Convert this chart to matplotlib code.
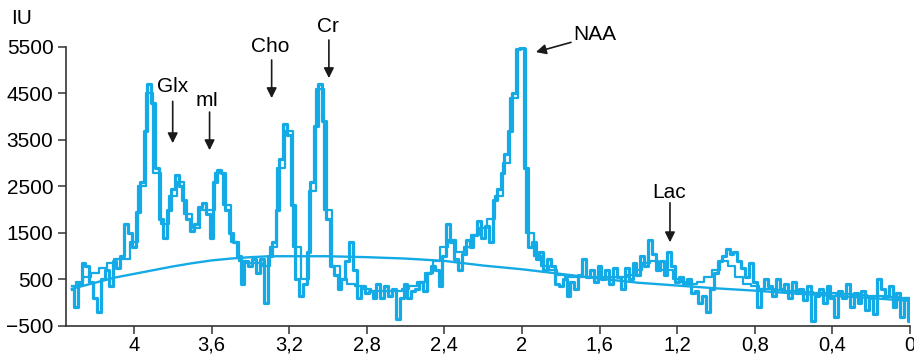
import numpy as np
import matplotlib
matplotlib.use("Agg")
import matplotlib.pyplot as plt

plt.rcParams['font.family'] = ['Liberation Sans', 'DejaVu Sans']

# ---- data (ppm, IU) ----
raw_ppm = np.round(np.arange(4.32, -0.001, -0.02), 2)
raw_iu = [300, -100, 400, 850, 800, 450, 100, -200, 500, 700,
          350, 900, 750, 1000, 1700, 1500, 1200, 1950, 2600, 3700,
          4700, 4300, 2900, 1800, 1400, 2000, 2450, 2750, 2500, 2200,
          1800, 1550, 1700, 2050, 2150, 1900, 1400, 2600, 2850, 2800,
          2000, 1500, 1300, 1000, 400, 900, 800, 950, 650, 950,
          0, 1000, 1300, 2000, 3100, 3850, 3600, 2100, 500, 150,
          400, 1100, 2600, 3800, 4700, 3900, 1800, 800, 600, 300,
          500, 900, 1300, 700, 100, 350, 200, 250, 100, 400,
          100, 350, 150, 300, -350, 100, 400, 100, 250, 300,
          450, 250, 650, 800, 700, 350, 1000, 1700, 1300, 950,
          700, 1050, 1350, 1200, 1450, 1750, 1400, 1650, 1300, 2200,
          2450, 2800, 3200, 3700, 4500, 5450, 5500, 2900, 1200, 1300,
          950, 1100, 700, 950, 800, 400, 350, 500, 150, 450,
          300, 600, 950, 550, 700, 450, 800, 500, 700, 400,
          750, 550, 300, 750, 500, 850, 600, 1000, 800, 1350,
          1050, 700, 900, 600, 1100, 800, 450, 550, 400, 500,
          200, 250, 0, 150, -200, 300, 650, 900, 1000, 1150,
          1050, 1100, 900, 750, 550, 850, 450, -100, 300, 500,
          350, 150, 500, 300, 400, 100, 450, 200, 300, 50,
          350, -400, 150, 300, 0, 350, 100, -300, 250, 100,
          400, -100, 200, 0, 250, -150, 100, -250, 500, 300,
          150, 350, -100, 200, -300, 100, -400]

fit_ppm = np.round(np.arange(4.32, -0.001, -0.04), 2)
fit_iu = [350, 450, 550, 650, 750, 850, 950, 950, 1300, 2500,
          4500, 2800, 1700, 2300, 2600, 1900, 1600, 2000, 2000, 2800,
          2100, 1300, 900, 850, 850, 800, 1200, 2900, 3700, 1200,
          500, 2400, 4600, 2000, 800, 500, 400, 350, 300, 250,
          250, 250, 250, 300, 350, 450, 650, 900, 1200, 1350,
          1100, 1200, 1450, 1600, 1800, 2300, 3000, 4400, 5450, 1500,
          1000, 800, 700, 600, 550, 550, 550, 550, 550, 550,
          550, 550, 600, 700, 850, 900, 700, 700, 500, 450,
          400, 450, 550, 700, 900, 800, 550, 400, 350, 300,
          300, 280, 260, 250, 240, 230, 220, 210, 200, 190,
          180, 170, 160, 150, 140, 130, 120, 110, 100]

base_ppm = [4.32, 4.2, 4.1, 4.0, 3.9, 3.8, 3.7, 3.6, 3.5, 3.4, 3.3, 3.2, 3.0,
            2.8, 2.6, 2.4, 2.2, 2.0, 1.8, 1.6, 1.4, 1.2, 1.0, 0.8, 0.6, 0.4,
            0.2, 0.0]
base_iu = [300, 430, 540, 620, 700, 780, 850, 910, 950, 980, 1000, 1000, 1000,
           980, 950, 900, 800, 720, 620, 520, 430, 370, 310, 260, 200, 150,
           100, 40]

xticks = [4.0, 3.6, 3.2, 2.8, 2.4, 2.0, 1.6, 1.2, 0.8, 0.4, 0.0]
xticklabels = ['4', '3,6', '3,2', '2,8', '2,4', '2', '1,6', '1,2', '0,8', '0,4', '0']
yticks = [-500, 500, 1500, 2500, 3500, 4500, 5500]
yticklabels = ['\u2212500', '500', '1500', '2500', '3500', '4500', '5500']

peaks = ['Glx', 'mI', 'Cho', 'Cr', 'NAA', 'Lac']
# label position, arrow tail, arrow head (ppm, IU)
label_pos = [(3.80, 4640), (3.62, 4360), (3.30, 5500), (3.00, 5930), (1.735, 5760), (1.24, 2380)]
arrow_tail = [(3.80, 4330), (3.61, 4100), (3.29, 5220), (2.995, 5650), (1.747, 5600), (1.237, 2150)]
arrow_head = [(3.80, 3430), (3.61, 3280), (3.29, 4400), (2.995, 4830), (1.928, 5390), (1.237, 1300)]

color = '#14aae6'

fig = plt.figure(figsize=(9.14, 3.56), dpi=100)
ax = fig.add_axes([0.0722, 0.0843, 0.9234, 0.7837])

ax.plot(base_ppm, base_iu, color=color, lw=1.7)
ax.plot(fit_ppm, fit_iu, color=color, lw=1.6, drawstyle='steps-mid')
ax.plot(raw_ppm, raw_iu, color=color, lw=2.3, drawstyle='steps-mid')

ax.set_xlim(4.35, 0.0)
ax.set_ylim(-500, 5500)
ax.set_xticks(xticks)
ax.set_xticklabels(xticklabels)
ax.set_yticks(yticks)
ax.set_yticklabels(yticklabels)
ax.tick_params(axis='y', labelsize=15, length=6, width=1.1, color='#333333', pad=3)
ax.tick_params(axis='x', labelsize=14.5, length=6, width=1.1, color='#333333', pad=1)

for s in ['top', 'right']:
    ax.spines[s].set_visible(False)
for s in ['left', 'bottom']:
    ax.spines[s].set_linewidth(1.2)
    ax.spines[s].set_color('#333333')

for name, lp, tail, head in zip(peaks, label_pos, arrow_tail, arrow_head):
    ha = 'left' if name == 'NAA' else 'center'
    ax.text(lp[0], lp[1], name, fontsize=15, ha=ha, va='center', clip_on=False)
    ax.annotate('', xy=head, xytext=tail, annotation_clip=False,
                arrowprops=dict(arrowstyle='-|>', color='#1a1a1a', lw=1.2,
                                mutation_scale=15, shrinkA=0, shrinkB=0))

fig.text(22 / 914, 1 - 18 / 356, 'IU', fontsize=15, ha='center', va='center')

fig.savefig('out.png', dpi=100)
